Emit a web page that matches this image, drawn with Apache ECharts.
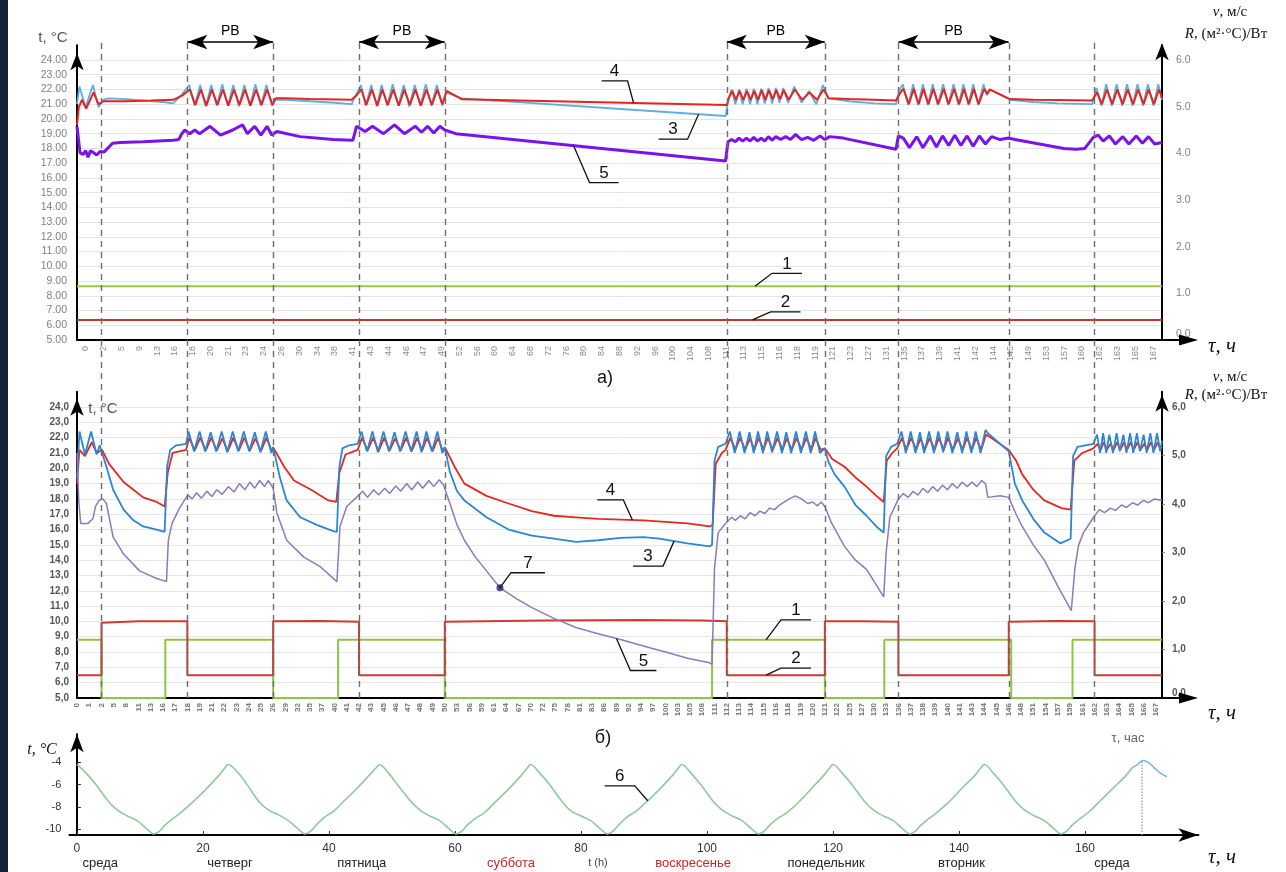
<!DOCTYPE html>
<html><head><meta charset="utf-8">
<script src="https://cdn.jsdelivr.net/npm/echarts@6/dist/echarts.min.js"></script>
<style>
html,body{margin:0;padding:0;background:#fff;}
#c{position:absolute;left:0;top:0;width:1286px;height:872px;}
#strip{position:absolute;left:0;top:0;width:8px;height:872px;background:#15223e;z-index:5;}
</style></head><body>
<div id="c"></div><div id="strip"></div>
<script>
// ---------- tick labels ----------
const labelsA = [0,2,5,9,13,16,18,20,21,23,24,26,30,34,38,41,43,44,46,47,49,52,56,60,64,68,72,76,80,84,88,92,96,100,104,108,111,113,115,116,118,119,121,123,127,131,135,137,139,141,142,144,145,149,153,157,160,162,163,165,167];
const labelsB = [0,1,2,5,8,11,13,16,17,18,19,21,22,23,24,25,26,29,32,35,37,40,41,42,43,45,46,47,48,49,50,53,56,59,61,64,67,70,72,75,78,81,83,86,89,92,94,97,100,103,105,108,111,112,113,114,115,116,118,119,120,121,122,125,127,130,133,136,137,138,139,140,141,143,144,145,146,148,151,154,157,159,161,162,163,164,165,166,167];
const cTicks = [0,20,40,60,80,100,120,140,160];
const cYTicks = [-4,-6,-8,-10];
const dayNames = ['среда','четверг','пятница','суббота','t (h)','воскресенье','понедельник','вторник','среда'];
const dayHours = [3.7,24.3,45.2,68.9,82.7,97.8,118.9,140.4,164.3];
const dayStyle = ['n','n','n','r','s','r','n','n','n'];
// x positions below are in category-position units of the hourly axis (label index of panel b)
const dashPos = [2,9,16,23,30,53,61,67,76,83];
const rvSpans = [[9,16],[23,30],[53,61],[67,76]];

// ---------- panel a ----------
const a1 = [[0,1.15],[88.5,1.15]];
const a2 = [[0,0.43],[88.5,0.43]];
const a3 = [[0,21.0],[0.2,22.2],[0.7,20.8],[1.3,22.3],[1.75,20.8],[2.15,21.3],[2.6,21.4],[4,21.35],[5.5,21.25],[7,21.15],[7.85,21.05],[8.5,21.6],
[9.15,22.3],[9.6,20.9],[10.05,22.3],[10.5,20.85],[10.95,22.3],[11.4,20.9],[11.85,22.35],[12.3,20.9],[12.75,22.3],[13.2,20.85],[13.65,22.3],[14.1,20.9],[14.55,22.35],[15.0,20.9],[15.45,22.3],[15.9,20.9],[16.2,21.3],
[17,21.3],[19,21.2],[21,21.1],[22.4,21.0],[22.8,21.7],
[23.15,22.3],[23.55,20.9],[24.0,22.3],[24.45,20.85],[24.85,22.3],[25.3,20.9],[25.75,22.35],[26.2,20.9],[26.65,22.3],[27.1,20.85],[27.55,22.3],[28.0,20.9],[28.45,22.35],[28.9,20.9],[29.35,22.3],[29.8,20.9],[30.1,21.8],[31.4,21.4],
[52.9,20.2],
[53.15,21.4],[53.4,22.0],[53.7,21.0],[54.0,22.0],[54.3,21.0],[54.6,22.05],[54.9,21.0],[55.2,22.05],[55.5,21.0],[55.8,22.05],[56.1,21.05],[56.4,22.1],[56.7,21.05],[57.0,22.1],[57.3,21.1],[57.6,22.1],[58.0,21.1],[58.5,22.2],[59.1,21.1],[59.7,21.9],[60.3,21.0],[60.85,22.3],[61.3,21.4],
[63,21.2],[65,21.05],[66.8,21.0],
[67.05,21.9],[67.35,22.35],[67.8,20.95],[68.2,22.35],[68.6,20.95],[69.0,22.35],[69.4,20.95],[69.8,22.35],[70.2,20.95],[70.65,22.35],[71.05,20.95],[71.5,22.35],[71.9,20.95],[72.3,22.35],[72.7,20.95],[73.1,22.35],[73.5,20.95],[73.95,22.35],[74.2,21.6],[74.4,22.0],[76.1,21.3],
[78,21.15],[80,21.05],[82.8,21.0],
[83.15,22.1],[83.55,20.9],[83.95,22.35],[84.4,20.9],[84.8,22.35],[85.25,20.9],[85.65,22.35],[86.1,20.9],[86.5,22.35],[86.95,20.9],[87.35,22.35],[87.8,20.9],[88.2,22.35],[88.5,21.3]];
const a4 = [[0,19.6],[0.15,20.8],[0.4,21.3],[0.75,20.7],[1.35,21.8],[1.75,21.0],[2.15,21.2],[4,21.2],[6,21.25],[7.85,21.3],[8.6,21.6],
[9.2,22.0],[9.65,20.95],[10.1,22.0],[10.55,20.9],[11.0,22.0],[11.45,20.95],[11.9,22.0],[12.35,20.9],[12.8,22.0],[13.25,20.95],[13.7,22.0],[14.15,20.9],[14.6,22.0],[15.05,20.95],[15.5,22.0],[15.95,20.95],[16.2,21.4],
[17,21.4],[19,21.35],[22.4,21.3],[22.8,21.6],
[23.2,22.0],[23.6,20.95],[24.05,22.0],[24.5,20.9],[24.9,22.0],[25.35,20.95],[25.8,22.0],[26.25,20.9],[26.7,22.0],[27.15,20.95],[27.6,22.0],[28.05,20.9],[28.5,22.0],[28.95,20.95],[29.4,22.0],[29.8,21.0],[30.15,21.9],[31.4,21.33],
[53.0,20.95],
[53.2,21.5],[53.45,21.9],[53.75,21.3],[54.05,21.9],[54.35,21.3],[54.65,21.9],[54.95,21.3],[55.25,21.9],[55.55,21.3],[55.85,21.95],[56.15,21.3],[56.45,21.95],[56.75,21.35],[57.05,21.95],[57.35,21.35],[57.65,21.95],[58.05,21.3],[58.55,22.0],[59.15,21.3],[59.75,21.8],[60.35,21.3],[60.9,22.0],[61.3,21.4],
[63,21.35],[65,21.3],[66.8,21.25],
[67.1,21.7],[67.4,22.05],[67.85,21.0],[68.25,22.05],[68.65,21.0],[69.05,22.05],[69.45,21.0],[69.85,22.05],[70.25,21.0],[70.7,22.05],[71.1,21.0],[71.55,22.05],[71.95,21.0],[72.35,22.05],[72.75,21.0],[73.15,22.05],[73.55,21.0],[74.0,22.05],[74.25,21.7],[74.45,22.0],[76.1,21.35],
[78,21.3],[80,21.28],[82.8,21.25],
[83.2,21.8],[83.6,21.0],[84.0,22.0],[84.45,21.0],[84.85,22.0],[85.3,21.0],[85.7,22.0],[86.15,21.0],[86.55,22.0],[87.0,21.0],[87.4,22.0],[87.85,21.0],[88.25,22.0],[88.5,21.4]];
const a5 = [[0,19.5],[0.25,17.7],[0.5,17.6],[0.7,17.85],[0.9,17.4],[1.1,17.85],[1.35,17.7],[1.6,17.55],[1.9,17.8],[2.2,17.75],[2.9,18.35],[3.5,18.4],[5.4,18.45],[7.85,18.55],[8.3,18.6],[8.55,19.0],[8.8,19.25],
[9.2,19.0],[9.6,19.25],[10.0,19.0],[10.85,19.5],[11.7,18.9],[12.7,19.25],[13.5,19.6],[13.9,19.0],[14.5,19.5],[15.0,18.9],[15.5,19.5],[15.9,18.9],[16.3,19.15],
[18.2,18.8],[20.9,18.6],[22.5,18.55],[22.8,19.5],
[23.5,19.15],[24.1,19.5],[25.0,19.0],[25.9,19.6],[26.7,19.0],[27.6,19.5],[28.1,19.1],[28.6,19.5],[29.1,19.05],[29.6,19.5],[30.0,19.25],[30.9,19.0],
[52.9,17.15],
[53.1,18.45],[53.4,18.6],[53.7,18.45],[54.0,18.7],[54.3,18.5],[54.6,18.7],[54.9,18.5],[55.2,18.75],[55.5,18.5],[55.8,18.7],[56.1,18.5],[56.4,18.8],[56.7,18.55],[57.0,18.8],[57.4,18.6],[57.8,18.8],[58.2,18.6],[58.6,18.95],[59.1,18.6],[59.6,18.75],[60.1,18.55],[60.6,18.85],[61.0,18.6],[61.4,18.8],[62.5,18.7],
[66.8,17.94],[67.0,18.85],
[67.4,18.7],[67.9,18.05],[68.5,18.8],[69.0,18.05],[69.6,18.85],[70.1,18.1],[70.6,18.85],[71.1,18.2],[71.6,18.9],[72.1,18.2],[72.6,18.85],[73.1,18.15],[73.6,18.85],[74.1,18.3],[74.6,18.8],[75.3,18.6],[76.0,18.7],
[76.5,18.6],[80.5,18.0],[81.5,17.95],[82.2,18.0],[82.9,18.75],
[83.3,18.9],[83.7,18.5],[84.2,18.85],[84.7,18.3],[85.3,18.8],[85.8,18.3],[86.4,18.85],[86.9,18.35],[87.4,18.8],[87.9,18.3],[88.5,18.4]];

// ---------- panel b ----------
const b1 = [[0,1.2],[2,1.2],[2,0],[7.2,0],[7.2,1.2],[16,1.2],[16,0],[21.3,0],[21.3,1.2],[30,1.2],[30,0],[51.8,0],[51.8,1.2],[61,1.2],[61,0],[65.85,0],[65.85,1.2],[76.2,1.2],[76.2,0],[81.2,0],[81.2,1.2],[88.5,1.2]];
const b2 = [[0,0.47],[2,0.47],[2,1.55],[5,1.58],[9,1.58],[9,0.47],[16,0.47],[16,1.58],[20,1.59],[23,1.57],[23,0.47],[30,0.47],[30,1.57],[38,1.6],[46,1.61],[51,1.6],[53,1.58],[53,0.47],[61,0.47],[61,1.58],[64,1.58],[67,1.57],[67,0.47],[76,0.47],[76,1.57],[80,1.59],[83,1.58],[83,0.47],[88.5,0.47]];
const b3 = [[0,19.4],[0.2,22.4],[0.65,20.9],[1.15,22.4],[1.6,20.9],[1.85,21.5],[2,21.4],[2.4,20.1],[2.95,18.6],[3.8,17.3],[4.6,16.6],[5.4,16.2],[6.5,16.0],[7.15,15.85],
[7.35,20.1],[7.6,21.2],[8.1,21.5],[8.9,21.6],
[9.1,22.4],[9.55,21.1],[10.0,22.4],[10.45,21.1],[10.9,22.35],[11.35,21.1],[11.8,22.4],[12.25,21.05],[12.7,22.4],[13.15,21.1],[13.6,22.4],[14.05,21.1],[14.5,22.35],[14.95,21.05],[15.4,22.4],[15.85,21.0],[16,21.4],
[16.55,19.4],[17.1,17.9],[18.2,16.8],[19.55,16.3],[20.9,15.9],[21.2,15.85],
[21.4,20.1],[21.65,21.3],[22.2,21.5],[22.9,21.6],
[23.2,22.4],[23.65,21.1],[24.1,22.4],[24.55,21.05],[25.0,22.4],[25.45,21.1],[25.9,22.35],[26.35,21.1],[26.8,22.4],[27.25,21.1],[27.7,22.4],[28.1,21.05],[28.5,22.4],[28.95,21.1],[29.4,22.4],[29.8,21.0],[30,21.4],
[30.4,19.8],[31.0,18.5],[31.6,17.9],[33.4,16.8],[35.2,16.0],[37.1,15.6],[38.9,15.4],[40.7,15.2],[42.5,15.3],[44.3,15.45],[46.2,15.5],[47.5,15.4],[49.8,15.1],[51.6,14.9],[51.8,15.0],
[52.0,20.5],[52.3,21.4],[52.9,21.6],
[53.25,22.4],[53.65,21.0],[54.05,22.4],[54.45,21.0],[54.85,22.35],[55.2,21.0],[55.55,22.4],[55.95,21.0],[56.3,22.4],[56.7,21.05],[57.1,22.4],[57.5,21.0],[57.85,22.35],[58.25,21.0],[58.65,22.4],[59.05,21.0],[59.45,22.4],[59.85,21.0],[60.2,22.4],[60.6,21.0],[61,21.3],
[61.3,20.4],[61.8,19.6],[62.6,18.8],[63.5,17.6],[64.4,16.9],[65.2,16.2],[65.8,15.8],
[66.0,20.8],[66.4,21.4],[66.9,21.6],
[67.25,22.4],[67.6,21.0],[68.0,22.4],[68.4,21.0],[68.75,22.35],[69.1,21.0],[69.5,22.4],[69.9,21.0],[70.25,22.4],[70.65,21.05],[71.0,22.4],[71.4,21.0],[71.8,22.35],[72.2,21.0],[72.55,22.4],[72.95,21.0],[73.3,22.4],[73.7,21.0],[74.1,22.5],[74.3,22.3],[76,21.1],
[76.5,19.0],[77.1,17.9],[78.0,16.7],[78.9,15.8],[80.2,15.1],[81.05,15.4],
[81.25,20.8],[81.6,21.4],[82.9,21.6],
[83.2,22.2],[83.45,21.0],[83.7,22.3],[83.95,21.0],[84.2,22.2],[84.5,21.0],[84.8,22.3],[85.05,21.1],[85.35,22.2],[85.6,21.0],[85.9,22.3],[86.15,21.0],[86.45,22.3],[86.7,21.1],[87.0,22.2],[87.25,21.0],[87.55,22.3],[87.8,21.0],[88.1,22.3],[88.35,21.1],[88.5,21.8]];
const b4 = [[0,19.0],[0.2,21.2],[0.65,20.8],[1.2,21.7],[1.6,21.0],[2.05,21.2],
[2.6,20.3],[3.8,19.1],[4.6,18.6],[5.4,18.1],[6.5,17.8],[7.15,17.5],
[7.4,19.7],[7.8,21.0],[8.9,21.2],
[9.15,22.0],[9.6,21.15],[10.05,22.0],[10.5,21.15],[10.95,22.0],[11.4,21.15],[11.85,21.95],[12.3,21.1],[12.75,22.0],[13.2,21.15],[13.65,22.0],[14.1,21.15],[14.55,21.95],[15.0,21.1],[15.45,22.0],[15.9,21.1],[16.05,21.3],
[16.9,20.1],[17.7,19.2],[19.1,18.6],[20.5,17.9],[21.15,17.8],
[21.4,19.7],[21.9,20.9],[22.9,21.2],
[23.25,22.0],[23.7,21.15],[24.15,22.0],[24.6,21.1],[25.05,22.0],[25.5,21.15],[25.95,21.95],[26.4,21.15],[26.85,22.0],[27.3,21.1],[27.75,22.0],[28.15,21.15],[28.55,22.0],[29.0,21.1],[29.45,22.0],[29.85,21.1],[30.05,21.3],
[30.8,20.1],[31.6,19.0],[33.4,18.2],[35.2,17.7],[37.1,17.2],[38.9,16.9],[40.7,16.8],[42.5,16.7],[46.2,16.6],[49.8,16.4],[51.6,16.2],[51.85,16.3],
[52.1,20.3],[52.6,21.0],[52.9,21.2],
[53.3,22.0],[53.7,21.2],[54.1,22.0],[54.5,21.2],[54.9,21.95],[55.25,21.2],[55.6,22.0],[56.0,21.2],[56.35,22.0],[56.75,21.2],[57.15,22.0],[57.55,21.2],[57.9,21.95],[58.3,21.2],[58.7,22.0],[59.1,21.2],[59.5,22.0],[59.9,21.2],[60.25,22.0],[60.65,21.2],[61,21.3],
[61.6,20.6],[62.6,20.1],[63.5,19.4],[64.4,18.8],[65.2,18.2],[65.8,17.8],
[66.05,20.5],[66.5,21.0],[66.9,21.3],
[67.3,22.0],[67.65,21.2],[68.05,22.0],[68.45,21.2],[68.8,21.95],[69.15,21.2],[69.55,22.0],[69.95,21.2],[70.3,22.0],[70.7,21.2],[71.05,22.0],[71.45,21.2],[71.85,21.95],[72.25,21.2],[72.6,22.0],[73.0,21.2],[73.35,22.0],[73.75,21.2],[74.15,22.2],[74.35,22.1],[76,21.2],
[76.6,20.5],[77.1,19.6],[78.0,18.6],[78.9,17.9],[80.3,17.4],[81.05,17.3],
[81.35,20.5],[82.0,21.0],[82.9,21.3],
[83.25,21.6],[83.5,21.2],[83.75,21.7],[84.0,21.2],[84.3,21.6],[84.55,21.2],[84.85,21.7],[85.1,21.2],[85.4,21.7],[85.65,21.2],[85.95,21.7],[86.2,21.2],[86.5,21.7],[86.75,21.2],[87.05,21.6],[87.3,21.2],[87.6,21.7],[87.85,21.2],[88.15,21.7],[88.4,21.2],[88.5,21.4]];
const b5 = [[0,21.0],[0.15,17.8],[0.3,16.4],[0.9,16.4],[1.3,16.7],[1.5,17.5],[1.8,17.9],[2.1,18.0],[2.4,17.7],[2.95,15.5],[3.8,14.4],[5.1,13.3],[6.5,12.8],[7.3,12.6],
[7.45,15.3],[7.75,16.4],[8.3,17.3],[8.75,17.9],[9.05,18.25],[9.4,18.0],[9.75,18.4],[10.15,18.05],[10.6,18.5],[11.0,18.15],[11.4,18.6],[11.85,18.3],[12.35,18.8],[12.8,18.45],[13.25,19.0],[13.7,18.6],[14.1,19.1],[14.5,18.7],[14.9,19.2],[15.3,18.8],[15.6,19.2],[16.0,18.7],
[16.3,17.1],[17.1,15.3],[18.5,14.2],[19.8,13.6],[21.2,12.6],
[21.45,16.2],[22.0,17.5],[22.8,18.1],[23.3,18.5],[23.7,18.1],[24.2,18.6],[24.6,18.25],[25.1,18.7],[25.5,18.35],[26.0,18.85],[26.4,18.5],[26.9,19.0],[27.3,18.6],[27.8,19.1],[28.2,18.7],[28.7,19.2],[29.1,18.8],[29.55,19.25],[29.9,18.9],
[30.5,17.5],[31.0,16.3],[31.6,15.3],[32.5,14.2],[33.4,13.3],[34.5,12.2],[35.8,11.5],[37.1,10.9],[38.9,10.2],[40.7,9.6],[42.5,9.2],[44.4,8.8],[46.2,8.4],[48.0,8.0],[49.8,7.6],[51.6,7.3],[51.8,7.2],
[52.0,13.5],[52.3,15.8],[52.9,16.4],[53.4,16.8],[53.7,16.6],[54.1,16.9],[54.5,16.7],[54.9,17.1],[55.3,16.9],[55.7,17.2],[56.1,17.05],[56.5,17.4],[56.9,17.3],[57.3,17.6],[57.7,17.8],[58.2,18.05],[58.6,18.2],[59.1,18.0],[59.6,17.7],[60.0,17.8],[60.4,17.55],[60.7,17.8],[61.0,17.5],
[61.5,16.5],[62.6,14.9],[63.5,14.0],[64.4,13.4],[65.8,11.6],
[66.0,14.5],[66.3,16.8],[67.0,18.0],[67.4,18.35],[67.8,18.1],[68.2,18.5],[68.6,18.25],[69.0,18.7],[69.4,18.4],[69.8,18.8],[70.2,18.5],[70.6,18.9],[71.0,18.6],[71.4,19.0],[71.8,18.7],[72.2,19.1],[72.6,18.8],[73.0,19.1],[73.4,18.8],[73.8,19.2],[74.1,19.0],[74.3,18.1],[75.3,18.2],[76.0,18.1],
[76.6,17.0],[77.1,16.2],[78.0,15.0],[78.9,14.0],[80.0,12.3],[81.1,10.7],
[81.4,13.5],[81.7,15.0],[82.1,15.8],[83.0,16.9],[83.4,17.3],[83.8,17.1],[84.3,17.4],[84.7,17.25],[85.2,17.6],[85.6,17.45],[86.1,17.75],[86.5,17.6],[87.0,17.9],[87.4,17.75],[87.9,18.0],[88.5,17.9]];
const b7 = [34.5,12.2];

// ---------- panel c (outdoor temperature, hours) ----------
const c6 = [[0,-4.2],[1.5,-5.0],[3,-6.0],[5,-7.5],[6.5,-8.3],[8,-8.8],[9.5,-9.2],[11,-9.9],[12.2,-10.4],[13,-10.2],[14,-9.6],[15.3,-9.0],[16.7,-8.4],[18.5,-7.5],[20.5,-6.4],[22.5,-5.2],[23.5,-4.5],
[24,-4.2],[25.5,-4.9],[27,-6.0],[29,-7.6],[30.5,-8.3],[32,-8.7],[33.5,-9.2],[35,-9.9],[36.2,-10.4],[37,-10.2],[38,-9.6],[39.3,-8.9],[40.7,-8.4],[42.5,-7.4],[44.5,-6.3],[46.5,-5.1],[47.5,-4.5],
[48,-4.2],[49.5,-5.0],[51,-6.1],[53,-7.5],[54.5,-8.3],[56,-8.8],[57.5,-9.2],[59,-9.9],[60.2,-10.4],[61,-10.2],[62,-9.6],[63.3,-9.0],[64.7,-8.5],[66.5,-7.5],[68.5,-6.4],[70.5,-5.2],[71.5,-4.5],
[72,-4.2],[73.5,-5.0],[75,-6.0],[77,-7.5],[78.5,-8.4],[80,-8.8],[81.5,-9.2],[83,-9.9],[84.2,-10.4],[85,-10.2],[86,-9.6],[87.3,-8.9],[88.7,-8.4],[90.5,-7.5],[92.5,-6.4],[94.5,-5.2],[95.5,-4.5],
[96,-4.2],[97.5,-5.0],[99,-6.0],[101,-7.5],[102.5,-8.3],[104,-8.8],[105.5,-9.2],[107,-9.9],[108.2,-10.4],[109,-10.2],[110,-9.6],[111.3,-9.0],[112.7,-8.5],[114.5,-7.6],[116.5,-6.4],[118.5,-5.2],[119.5,-4.5],
[120,-4.2],[121.5,-5.0],[123,-6.0],[125,-7.5],[126.5,-8.3],[128,-8.8],[129.5,-9.2],[131,-9.9],[132.2,-10.4],[133,-10.2],[134,-9.6],[135.3,-9.0],[136.7,-8.4],[138.5,-7.5],[140.5,-6.3],[142.5,-5.2],[143.5,-4.5],
[144,-4.2],[145.5,-5.0],[147,-6.0],[149,-7.5],[150.5,-8.3],[152,-8.8],[153.5,-9.2],[155,-9.9],[156.2,-10.4],[157,-10.2],[158,-9.6],[159.3,-9.0],[160.7,-8.4],[162.5,-7.4],[164.5,-6.3],[166.5,-5.2],[167.5,-4.5],[168.4,-4.2]];
const c6tail = [[168.4,-4.2],[169.2,-3.85],[170,-4.0],[171,-4.5],[172,-5.0],[173,-5.3]];

// ---------- annotations ----------
const leaderNotes = [
 {text:'4', series:'a4', x:45.4, elbow:[-6,-22], bar:-26},
 {text:'3', series:'a3', x:50.7, elbow:[-11,25], bar:-29},
 {text:'5', series:'a5', x:40.5, elbow:[16,37], bar:29},
 {text:'1', series:'a1', x:55.3, elbow:[17,-13], bar:30},
 {text:'2', series:'a2', x:55.1, elbow:[18,-8], bar:30},
 {text:'4', series:'b4', x:45.3, elbow:[-9,-20], bar:-26},
 {text:'3', series:'b3', x:48.7, elbow:[-11,25], bar:-30},
 {text:'7', series:'b5', x:34.5, elbow:[11,-15], bar:34},
 {text:'5', series:'b5', x:44.0, elbow:[14,32], bar:26},
 {text:'1', series:'b1', x:56.2, elbow:[15,-20], bar:30},
 {text:'2', series:'b2', x:56.2, elbow:[15,-7], bar:30},
 {text:'6', series:'c6', x:90.6, elbow:[-13,-15], bar:-30}
];

// ---------- build ----------
const SANS = 'Liberation Sans';
const SERIF = 'Liberation Serif';
const seriesInfo = {
 a1:{data:a1,xi:1,yi:1}, a2:{data:a2,xi:1,yi:1}, a3:{data:a3,xi:1,yi:0}, a4:{data:a4,xi:1,yi:0}, a5:{data:a5,xi:1,yi:0},
 b1:{data:b1,xi:2,yi:3}, b2:{data:b2,xi:2,yi:3}, b3:{data:b3,xi:2,yi:2}, b4:{data:b4,xi:2,yi:2}, b5:{data:b5,xi:2,yi:2},
 c6:{data:c6,xi:3,yi:4}
};
function interp(arr, x){
  for (let i=1;i<arr.length;i++){
    if (arr[i][0] >= x){
      const [x0,y0]=arr[i-1],[x1,y1]=arr[i];
      return x1===x0 ? y1 : y0+(y1-y0)*(x-x0)/(x1-x0);
    }
  }
  return arr[arr.length-1][1];
}
function lineS(name, key, color, width, z){
  const s = seriesInfo[key];
  return {name, type:'line', data:s.data, xAxisIndex:s.xi, yAxisIndex:s.yi, showSymbol:false, symbol:'none',
    lineStyle:{color, width}, itemStyle:{color}, z:z||3, silent:true, animation:false};
}
const axisBlack = {show:true, lineStyle:{color:'#000', width:2}};

const option = {
  animation:false,
  backgroundColor:'#fff',
  grid:[
    {left:77, top:45.26, width:1085, height:294.74, outerBoundsMode:'none'},
    {left:77, top:391.7, width:1085, height:306.3, outerBoundsMode:'none'},
    {left:69.4, top:734.2, width:1129, height:100.8, outerBoundsMode:'none'},
    {left:77, top:42, width:1085, height:656, outerBoundsMode:'none'}
  ],
  xAxis:[
    {gridIndex:0, type:'category', data:labelsA, boundaryGap:true, axisLine:axisBlack, axisTick:{show:false}, splitLine:{show:false},
      axisLabel:{interval:0, rotate:90, fontSize:9, color:'#8a8a8a', fontFamily:SANS, margin:6}},
    {gridIndex:0, type:'value', min:0, max:88.5, show:false},
    {gridIndex:1, type:'value', min:0, max:88.5, interval:1, axisLine:axisBlack, axisTick:{show:false}, splitLine:{show:false},
      axisLabel:{rotate:90, fontSize:8, color:'#777', fontWeight:'bold', fontFamily:SANS, margin:5, showMaxLabel:false,
        formatter:v => (labelsB[v] !== undefined ? String(labelsB[v]) : '')}},
    {gridIndex:2, type:'value', min:-1.2, max:178,
      axisLine:{show:true, lineStyle:{color:'#000', width:2}, symbol:['none','arrow'], symbolSize:[10,20]},
      axisTick:{show:true, inside:true, length:4, customValues:cTicks, lineStyle:{color:'#333'}},
      axisLabel:{customValues:cTicks, color:'#333', fontSize:12, fontFamily:SANS, margin:8}, splitLine:{show:false}},
    {gridIndex:2, type:'value', min:-1.2, max:178, position:'bottom', offset:16,
      axisLine:{show:false}, axisTick:{show:false}, splitLine:{show:false},
      axisLabel:{customValues:dayHours, margin:6, fontFamily:SANS,
        formatter:v => { const i = dayHours.indexOf(v); return i<0 ? '' : '{'+dayStyle[i]+'|'+dayNames[i]+'}'; },
        rich:{n:{color:'#222', fontSize:13, fontFamily:SANS}, r:{color:'#c62828', fontSize:13, fontFamily:SANS}, s:{color:'#444', fontSize:11, fontFamily:SANS}}}},
    {gridIndex:3, type:'value', min:0, max:88.5, show:false}
  ],
  yAxis:[
    {gridIndex:0, type:'value', min:5, max:25, interval:1, position:'left',
      axisLine:{show:true, lineStyle:{color:'#000', width:2}, symbol:['none','arrow'], symbolSize:[10,17], symbolOffset:[0,-8]},
      axisTick:{show:false}, splitLine:{show:true, showMaxLine:false, lineStyle:{color:'#e4e4e4', width:1}},
      axisLabel:{showMaxLabel:false, formatter:v => v.toFixed(2), color:'#7f7f7f', fontSize:10.5, fontFamily:SANS, margin:10}},
    {gridIndex:0, type:'value', min:0, max:6.3158, interval:1, position:'right',
      axisLine:{show:true, lineStyle:{color:'#000', width:2}, symbol:['none','arrow'], symbolSize:[10,17], symbolOffset:[0,2]},
      axisTick:{show:false}, splitLine:{show:false},
      axisLabel:{showMaxLabel:false, verticalAlignMinLabel:'bottom', formatter:v => (Number.isInteger(v) ? v.toFixed(1) : ''), color:'#7f7f7f', fontSize:10.5, fontFamily:SANS, margin:14}},
    {gridIndex:1, type:'value', min:5, max:25, interval:1, position:'left',
      axisLine:{show:true, lineStyle:{color:'#000', width:2}, symbol:['none','arrow'], symbolSize:[10,17], symbolOffset:[0,-7]},
      axisTick:{show:false}, splitLine:{show:true, showMaxLine:false, lineStyle:{color:'#e6e6e6', width:1}},
      axisLabel:{showMaxLabel:false, formatter:v => v.toFixed(1).replace('.', ','), color:'#555', fontWeight:'bold', fontSize:10, fontFamily:SANS, margin:8}},
    {gridIndex:1, type:'value', min:0, max:6.3158, interval:1, position:'right',
      axisLine:{show:true, lineStyle:{color:'#000', width:2}, symbol:['none','arrow'], symbolSize:[10,17], symbolOffset:[0,-3]},
      axisTick:{show:true, inside:false, length:3, lineStyle:{color:'#888'}}, splitLine:{show:false},
      axisLabel:{showMaxLabel:false, verticalAlignMinLabel:'bottom', formatter:v => (Number.isInteger(v) ? v.toFixed(1).replace('.', ',') : ''), color:'#555', fontWeight:'bold', fontSize:10, fontFamily:SANS, margin:10}},
    {gridIndex:2, type:'value', min:-10.5, max:-1.5,
      axisLine:{show:true, lineStyle:{color:'#000', width:2}, symbol:['none','arrow'], symbolSize:[10,18]},
      axisTick:{show:true, inside:true, length:4, customValues:cYTicks, lineStyle:{color:'#333'}}, splitLine:{show:false},
      axisLabel:{customValues:cYTicks, color:'#333', fontSize:11, fontFamily:SANS, margin:8}},
    {gridIndex:3, type:'value', min:0, max:1, show:false}
  ],
  series:[
    lineS('1', 'a1', '#9dcb3b', 2),
    lineS('2', 'a2', '#c9342a', 2),
    lineS('3', 'a3', '#5daee2', 1.8),
    lineS('4', 'a4', '#e8231d', 2),
    lineS('5', 'a5', '#7a12ee', 3),
    lineS('1b', 'b1', '#8dc641', 2),
    lineS('2b', 'b2', '#cf3a32', 2),
    lineS('4b', 'b4', '#e8261f', 1.8),
    lineS('3b', 'b3', '#2c86d2', 1.8),
    lineS('5b', 'b5', '#8e79bd', 1.5),
    {name:'7', type:'scatter', data:[b7], xAxisIndex:2, yAxisIndex:2, symbolSize:7, itemStyle:{color:'#18206b'}, z:6, silent:true},
    Object.assign(lineS('6', 'c6', '#8fc99e', 1.6), {smooth:0.35}),
    {name:'6t', type:'line', data:c6tail, xAxisIndex:3, yAxisIndex:4, showSymbol:false, symbol:'none', smooth:0.35,
      lineStyle:{color:'#79b4e4', width:1.6}, silent:true,
      markLine:{silent:true, symbol:'none', animation:false, label:{show:false},
        lineStyle:{color:'#aaa', type:'dotted', width:1.5},
        data:[[{coord:[169,-10.5]},{coord:[169,-3.9]}]]}},
    {name:'dash', type:'line', data:[], xAxisIndex:5, yAxisIndex:5, z:1, silent:true,
      markLine:{silent:true, symbol:'none', animation:false, label:{show:false},
        lineStyle:{color:'#6e6e6e', type:[6,5], width:1.4},
        data:dashPos.map(v => ({xAxis:v}))}},
    {name:'rv', type:'line', data:[], xAxisIndex:5, yAxisIndex:5, z:4, silent:true,
      markLine:{silent:true, animation:false, symbol:['arrow','arrow'], symbolSize:[11,20],
        lineStyle:{color:'#000', type:'solid', width:1.5},
        label:{show:true, formatter:'РВ', position:'insideMiddleTop', distance:4, color:'#000', fontSize:14, fontFamily:SANS},
        data:rvSpans.map(([s,e]) => [{coord:[s,1]},{coord:[e,1]}])}}
  ]
};

const chart = echarts.init(document.getElementById('c'), null, {renderer:'canvas', width:1286, height:872});
chart.setOption(option);

const gfx = [];
function txt(x, y, text, font, fill, align, extra){
  gfx.push({type:'text', x, y, z:100, silent:true,
    style:Object.assign({text, font, fill:fill||'#000', textAlign:align||'center', align:align||'center', textVerticalAlign:'middle', verticalAlign:'middle'}, extra||{})});
}
// axis arrows for panel a / b x axes
[[340],[698]].forEach(([y]) => {
  gfx.push({type:'line', z:50, silent:true, shape:{x1:1162, y1:y, x2:1184, y2:y}, style:{stroke:'#000', lineWidth:2}});
  gfx.push({type:'polygon', z:50, silent:true, shape:{points:[[1179,y-5.5],[1198,y],[1179,y+5.5]]}, style:{fill:'#000'}});
});
txt(53, 38, 't, °C', '15px '+SANS, '#555');
txt(103, 409, 't, °C', '15px '+SANS, '#555');
txt(42, 750, '{i|t, °C}', '16px '+SERIF, '#111', 'center', {rich:{i:{fontStyle:'italic', fontSize:16, fontFamily:SERIF}}});
txt(1230, 12, '{i|v}, м/с', '15px '+SERIF, '#111', 'center', {rich:{i:{fontStyle:'italic', fontSize:15, fontFamily:SERIF}}});
txt(1226, 34, '{i|R}, (м²·°C)/Вт', '15px '+SERIF, '#111', 'center', {rich:{i:{fontStyle:'italic', fontSize:15, fontFamily:SERIF}}});
txt(1230, 377, '{i|v}, м/с', '15px '+SERIF, '#111', 'center', {rich:{i:{fontStyle:'italic', fontSize:15, fontFamily:SERIF}}});
txt(1226, 395, '{i|R}, (м²·°C)/Вт', '15px '+SERIF, '#111', 'center', {rich:{i:{fontStyle:'italic', fontSize:15, fontFamily:SERIF}}});
txt(1222, 346, 'τ, ч', 'italic 21px '+SERIF, '#111');
txt(1222, 713, 'τ, ч', 'italic 21px '+SERIF, '#111');
txt(1222, 857, 'τ, ч', 'italic 21px '+SERIF, '#111');
txt(1128, 738, 'τ, час', '13px '+SANS, '#666');
txt(605, 378, 'а)', '18px '+SANS, '#111');
txt(603, 738, 'б)', '18px '+SANS, '#111');

leaderNotes.forEach(n => {
  const s = seriesInfo[n.series];
  const yv = interp(s.data, n.x);
  const p = chart.convertToPixel({xAxisIndex:s.xi, yAxisIndex:s.yi}, [n.x, yv]);
  if (!p) return;
  const ex = p[0] + n.elbow[0], ey = p[1] + n.elbow[1], bx = ex + n.bar;
  gfx.push({type:'polyline', z:90, silent:true, shape:{points:[[p[0],p[1]],[ex,ey],[bx,ey]]}, style:{stroke:'#111', lineWidth:1.3, fill:null}});
  gfx.push({type:'text', z:90, silent:true, x:(ex+bx)/2, y:ey-1,
    style:{text:n.text, font:'17px '+SANS, fill:'#111', textAlign:'center', align:'center', textVerticalAlign:'bottom', verticalAlign:'bottom'}});
});
chart.setOption({graphic:gfx});
</script>
</body></html>
